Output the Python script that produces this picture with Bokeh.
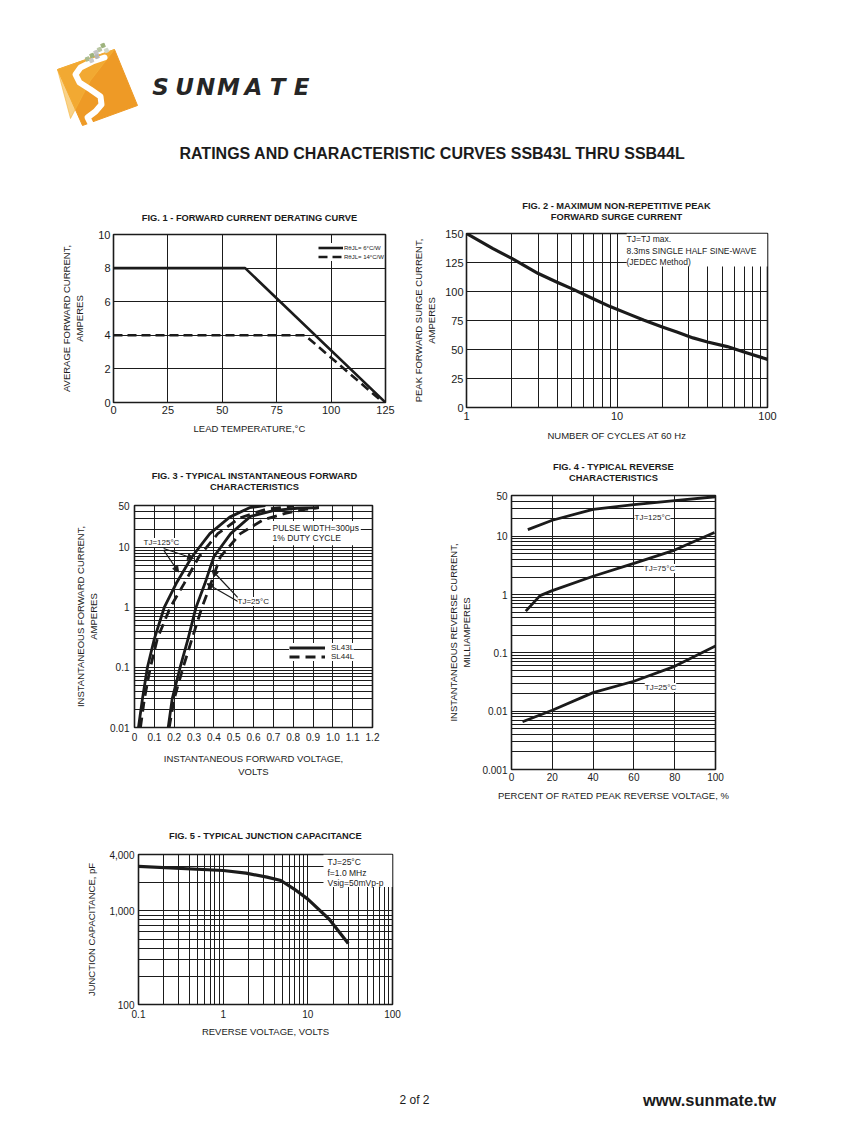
from bokeh.plotting import figure
from bokeh.models import (Range1d, FixedTicker, Label, Legend, LegendItem, Arrow,
                          NormalHead, BoxAnnotation, BasicTickFormatter)
from bokeh.layouts import column, row
from bokeh.embed import file_html
from bokeh.resources import INLINE
from bokeh.core.properties import value

FONT = "Liberation Sans"
INK = "#1b1b1b"

# ---------------- data ----------------
# Fig. 1 forward current derating
f1_x_ticks = [0, 25, 50, 75, 100, 125]
f1_x_labels = ["0", "25", "50", "75", "100", "125"]
f1_y_ticks = [0, 2, 4, 6, 8, 10]
f1_y_labels = ["0", "2", "4", "6", "8", "10"]
f1_temp_6 = [0, 60.5, 125]
f1_amps_6 = [8, 8, 0]
f1_temp_14 = [0, 88, 124]
f1_amps_14 = [4, 4, 0]
f1_series = ["RθJL= 6°C/W", "RθJL= 14°C/W"]

# Fig. 2 peak forward surge current
f2_x_ticks = [1, 10, 100]
f2_x_labels = ["1", "10", "100"]
f2_x_minor = [2, 3, 4, 5, 6, 7, 8, 9, 20, 30, 40, 50, 60, 70, 80, 90]
f2_y_ticks = [0, 25, 50, 75, 100, 125, 150]
f2_y_labels = ["0", "25", "50", "75", "100", "125", "150"]
f2_cycles = [1, 1.5, 2, 3, 4, 5, 7, 9, 12, 15, 20, 25, 32, 40, 54, 69, 100]
f2_amps = [150, 137, 128.5, 115.5, 108, 102.5, 93.5, 87, 80.5, 75.5, 69.5, 65, 60, 56.5, 52.5, 48, 41.5]

# Fig. 3 instantaneous forward characteristics
f3_x_ticks = [0, 0.1, 0.2, 0.3, 0.4, 0.5, 0.6, 0.7, 0.8, 0.9, 1.0, 1.1, 1.2]
f3_x_labels = ["0", "0.1", "0.2", "0.3", "0.4", "0.5", "0.6", "0.7", "0.8", "0.9", "1.0", "1.1", "1.2"]
f3_y_ticks = [0.01, 0.1, 1, 10, 50]
f3_y_labels = ["0.01", "0.1", "1", "10", "50"]
f3_y_minor = [0.02, 0.03, 0.04, 0.05, 0.06, 0.07, 0.08, 0.09,
              0.2, 0.3, 0.4, 0.5, 0.6, 0.7, 0.8, 0.9,
              2, 3, 4, 5, 6, 7, 8, 9, 20, 30, 40]
f3_v_43_125 = [0.02, 0.04, 0.065, 0.1, 0.15, 0.21, 0.29, 0.38, 0.48, 0.58, 0.66]
f3_i_43_125 = [0.01, 0.03, 0.1, 0.3, 1.0, 2.5, 7, 17, 32, 46, 50]
f3_v_44_125 = [0.03, 0.05, 0.08, 0.115, 0.18, 0.25, 0.325, 0.42, 0.53, 0.66, 0.8]
f3_i_44_125 = [0.01, 0.03, 0.1, 0.3, 1.0, 2.5, 7, 17, 31, 43, 49]
f3_v_43_25 = [0.17, 0.19, 0.23, 0.27, 0.31, 0.355, 0.40, 0.485, 0.585, 0.7, 0.82, 0.93]
f3_i_43_25 = [0.01, 0.03, 0.1, 0.3, 1.0, 2.5, 7, 17, 33, 41, 45, 46]
f3_v_44_25 = [0.175, 0.2, 0.245, 0.29, 0.34, 0.385, 0.433, 0.534, 0.65, 0.76, 0.86, 0.93]
f3_i_44_25 = [0.01, 0.03, 0.1, 0.3, 1.0, 2.5, 7, 17, 29, 37, 43, 46]
f3_series = ["SL43L", "SL44L"]

# Fig. 4 typical reverse characteristics
f4_x_ticks = [0, 20, 40, 60, 80, 100]
f4_x_labels = ["0", "20", "40", "60", "80", "100"]
f4_y_ticks = [0.001, 0.01, 0.1, 1, 10, 50]
f4_y_labels = ["0.001", "0.01", "0.1", "1", "10", "50"]
f4_y_minor = [0.002, 0.003, 0.004, 0.005, 0.006, 0.007, 0.008, 0.009,
              0.02, 0.03, 0.04, 0.05, 0.06, 0.07, 0.08, 0.09,
              0.2, 0.3, 0.4, 0.5, 0.6, 0.7, 0.8, 0.9,
              2, 3, 4, 5, 6, 7, 8, 9, 20, 30, 40]
f4_pct_125 = [8, 20, 40, 60, 80, 100]
f4_ma_125 = [13, 18.8, 29, 34.8, 41, 47.6]
f4_pct_75 = [7, 14, 20, 40, 60, 80, 99.5]
f4_ma_75 = [0.52, 0.96, 1.17, 2.06, 3.43, 5.8, 11.6]
f4_pct_25 = [5.4, 20, 40, 60, 80, 100]
f4_ma_25 = [0.0066, 0.0104, 0.0208, 0.0326, 0.0588, 0.131]

# Fig. 5 typical junction capacitance
f5_x_ticks = [0.1, 1, 10, 100]
f5_x_labels = ["0.1", "1", "10", "100"]
f5_x_minor = [0.2, 0.3, 0.4, 0.5, 0.6, 0.7, 0.8, 0.9, 2, 3, 4, 5, 6, 7, 8, 9,
              20, 30, 40, 50, 60, 70, 80, 90]
f5_y_ticks = [100, 1000, 4000]
f5_y_labels = ["100", "1,000", "4,000"]
f5_y_minor = [200, 300, 400, 500, 600, 700, 800, 900, 2000, 3000]
f5_volts = [0.1, 1, 1.86, 3.3, 4.8, 6.9, 10, 17.9, 30]
f5_pf = [2985, 2700, 2530, 2290, 2110, 1710, 1336, 813, 448]

# figure titles
fig_titles = {
    "f1": ["FIG. 1 - FORWARD CURRENT DERATING CURVE"],
    "f2": ["FIG. 2 - MAXIMUM NON-REPETITIVE PEAK", "FORWARD SURGE CURRENT"],
    "f3": ["FIG. 3 - TYPICAL INSTANTANEOUS FORWARD", "CHARACTERISTICS"],
    "f4": ["FIG. 4 - TYPICAL REVERSE", "CHARACTERISTICS"],
    "f5": ["FIG. 5 - TYPICAL JUNCTION CAPACITANCE"],
}


# ---------------- helpers ----------------
def make_fig(fw, fh, bl, br, bt, bb, xr, yr, xtype="linear", ytype="linear"):
    p = figure(frame_width=fw, frame_height=fh, min_border_left=bl, min_border_right=br,
               min_border_top=bt, min_border_bottom=bb, x_range=xr, y_range=yr,
               x_axis_type=xtype, y_axis_type=ytype, output_backend="svg",
               toolbar_location=None, title=None)
    p.outline_line_color = INK
    p.outline_line_width = 1.6
    p.background_fill_color = "white"
    p.border_fill_color = "white"
    for ax in (p.xaxis[0], p.yaxis[0]):
        ax.axis_line_color = None
        ax.major_tick_in = 0
        ax.major_tick_out = 0
        ax.minor_tick_in = 0
        ax.minor_tick_out = 0
        ax.major_label_text_font = FONT
        ax.major_label_text_color = INK
        ax.axis_label_text_font = FONT
        ax.axis_label_text_font_style = "normal"
        ax.axis_label_text_color = INK
        ax.axis_label_text_font_size = "9.5px"
    for g in (p.xgrid[0], p.ygrid[0]):
        g.grid_line_color = INK
        g.grid_line_width = 1
        g.grid_line_alpha = 1
        g.minor_grid_line_color = INK
        g.minor_grid_line_width = 1
        g.minor_grid_line_alpha = 1
    return p


def set_ticks(ax, grid, ticks, labels, minor=()):
    t = FixedTicker(ticks=list(ticks), minor_ticks=list(minor))
    ax.ticker = t
    grid.ticker = t
    ax.formatter = BasicTickFormatter()
    ax.major_label_overrides = {tk: lb for tk, lb in zip(ticks, labels)}


def text_label(p, x, y, text, size="8.5px", bold=False, align="left", bg=None):
    lab = Label(x=x, y=y, x_units="screen", y_units="screen", text=text,
                text_font=FONT, text_font_size=size, text_color=INK,
                text_font_style="bold" if bold else "normal",
                text_align=align, text_baseline="middle")
    if bg is not None:
        lab.background_fill_color = bg
        lab.background_fill_alpha = 1.0
    p.add_layout(lab)
    return lab


def page_strip(y0, y1, x0=0, x1=839, bl=0, br=0):
    # x0/x1: page x of the strip's frame; bl/br: blank borders left and right of it
    s = figure(frame_width=x1 - x0, frame_height=y1 - y0, min_border=0,
               min_border_left=bl, min_border_right=br, x_range=Range1d(x0, x1),
               y_range=Range1d(y1, y0), x_axis_location=None, y_axis_location=None,
               output_backend="svg", toolbar_location=None, title=None)
    s.grid.visible = False
    s.outline_line_color = None
    return s


def strip_titles(s, entries):
    # entries: (x_center, y_first_line, lines)
    xs, ys, ts = [], [], []
    for xc, y0, lines in entries:
        for k, ln in enumerate(lines):
            xs.append(xc)
            ys.append(y0 + 11 * k)
            ts.append(ln)
    s.text(x=xs, y=ys, text=ts, text_font=value(FONT), text_font_style="bold",
           text_font_size="9.3px", text_color=INK, text_align="center", text_baseline="middle")


# ---------------- header ----------------
hdr = page_strip(0, 190)
hdr.patch([57, 114, 137, 82], [69, 49, 105, 125], color="#EE9A26")
hdr.patch([57, 114, 90, 70], [69, 49, 80, 118], color="#F5B43A", alpha=0.6)
hdr.line([104, 92, 80, 75, 79, 90, 100, 101, 95, 87, 90],
         [57, 61, 67, 74, 82, 89, 96, 104, 111, 117, 123],
         line_color="white", line_width=6, line_cap="round", line_join="round")
hdr.rect([102.5, 99, 95.5, 91.5, 96.5, 87, 91, 106],
         [45, 49, 52, 55, 56, 58.5, 60, 50],
         width=3.6, height=3.6, angle=0.35,
         color=["#9DB27C", "#B9C6A2", "#C4C4C4", "#9DB27C", "#B5B5B5", "#A9BB8E", "#C9C9C9", "#D2D8C8"])
hdr.text(x=[160, 184, 205, 228, 253, 277, 301], y=[86] * 7, text=list("SUNMATE"),
         text_font=value("DejaVu Sans"), text_font_style="bold italic", text_font_size="23px",
         text_color="#262626", text_align="center", text_baseline="middle")
hdr.text(x=[432], y=[153], text=["RATINGS AND CHARACTERISTIC CURVES SSB43L THRU SSB44L"],
         text_font=value(FONT), text_font_style="bold", text_font_size="16px",
         text_color=INK, text_align="center", text_baseline="middle")

# ---------------- title strips ----------------
stripB = page_strip(190, 226)
strip_titles(stripB, [(249, 217, fig_titles["f1"]), (616, 205, fig_titles["f2"])])
# strips stacked over a plot share that plot's left/right borders (frames align in columns)
strip3 = page_strip(450, 495, 134, 372, bl=134, br=33)
strip_titles(strip3, [(254, 475, fig_titles["f3"])])
strip4 = page_strip(450, 488, 511, 715, bl=106, br=30)
strip_titles(strip4, [(613, 466, fig_titles["f4"])])
stripD = page_strip(810, 846)
strip_titles(stripD, [(265, 835, fig_titles["f5"])])

# ---------------- Fig. 1 ----------------
p1 = make_fig(272, 168, 113, 20, 8, 48, Range1d(0, 125), Range1d(0, 10))
set_ticks(p1.xaxis[0], p1.xgrid[0], f1_x_ticks, f1_x_labels)
set_ticks(p1.yaxis[0], p1.ygrid[0], f1_y_ticks, f1_y_labels)
for ax in (p1.xaxis[0], p1.yaxis[0]):
    ax.major_label_text_font_size = "11px"
p1.xaxis.major_label_standoff = 3
p1.yaxis.major_label_standoff = 3
p1.xaxis.axis_label = "LEAD TEMPERATURE,°C"
p1.xaxis.axis_label_standoff = 6
p1.yaxis.axis_label = "AVERAGE FORWARD CURRENT,\nAMPERES"
p1.yaxis.axis_label_standoff = 10
r16 = p1.line(f1_temp_6, f1_amps_6, line_color=INK, line_width=2.6)
r114 = p1.line(f1_temp_14, f1_amps_14, line_color=INK, line_width=2.6, line_dash="9 5")
leg1 = Legend(items=[LegendItem(label=f1_series[0], renderers=[r16]),
                     LegendItem(label=f1_series[1], renderers=[r114])],
              location=(205, 141), padding=1, margin=0, spacing=0, glyph_width=25,
              glyph_height=9, label_height=9, label_standoff=1, label_text_font=FONT,
              label_text_font_size="6px", label_text_color=INK, border_line_color=None,
              background_fill_color="white", background_fill_alpha=1.0)
p1.add_layout(leg1)

# ---------------- Fig. 2 ----------------
p2 = make_fig(301, 174, 61, 20, 7, 43, Range1d(1, 100), Range1d(0, 150), xtype="log")
set_ticks(p2.xaxis[0], p2.xgrid[0], f2_x_ticks, f2_x_labels, f2_x_minor)
set_ticks(p2.yaxis[0], p2.ygrid[0], f2_y_ticks, f2_y_labels)
for ax in (p2.xaxis[0], p2.yaxis[0]):
    ax.major_label_text_font_size = "11px"
p2.xaxis.major_label_standoff = 4
p2.yaxis.major_label_standoff = 3
p2.xaxis.axis_label = "NUMBER OF CYCLES AT 60 Hz"
p2.xaxis.axis_label_standoff = 7
p2.yaxis.axis_label = "PEAK FORWARD SURGE CURRENT,\nAMPERES"
p2.yaxis.axis_label_standoff = 5
p2.line(f2_cycles, f2_amps, line_color=INK, line_width=3.2, line_join="round")
p2.add_layout(BoxAnnotation(left=11.6, right=100, bottom=121.5, top=150, fill_color="white",
                            fill_alpha=1.0, line_color=None))
text_label(p2, 160, 169, "TJ=TJ max.", size="8.5px")
text_label(p2, 160, 157, "8.3ms SINGLE HALF SINE-WAVE", size="8.5px")
text_label(p2, 160, 146, "(JEDEC Method)", size="8.5px")

# ---------------- Fig. 3 ----------------
p3 = make_fig(238, 222, 134, 33, 10, 83, Range1d(0, 1.2), Range1d(0.01, 50), ytype="log")
set_ticks(p3.xaxis[0], p3.xgrid[0], f3_x_ticks, f3_x_labels)
set_ticks(p3.yaxis[0], p3.ygrid[0], f3_y_ticks, f3_y_labels, f3_y_minor)
for ax in (p3.xaxis[0], p3.yaxis[0]):
    ax.major_label_text_font_size = "10px"
p3.xaxis.major_label_standoff = 5
p3.yaxis.major_label_standoff = 5
p3.xaxis.axis_label = "INSTANTANEOUS FORWARD VOLTAGE,\nVOLTS"
p3.xaxis.axis_label_standoff = 9
p3.yaxis.axis_label = "INSTANTANEOUS FORWARD CURRENT,\nAMPERES"
p3.yaxis.axis_label_standoff = 8
r3a = p3.line(f3_v_43_125, f3_i_43_125, line_color=INK, line_width=2.8, line_join="round")
r3b = p3.line(f3_v_44_125, f3_i_44_125, line_color=INK, line_width=2.8, line_dash="10 6")
p3.line(f3_v_43_25, f3_i_43_25, line_color=INK, line_width=2.8, line_join="round")
p3.line(f3_v_44_25, f3_i_44_25, line_color=INK, line_width=2.8, line_dash="10 6")
p3.add_layout(BoxAnnotation(left=0.686, right=1.141, bottom=10.9, top=27.6, fill_color="white",
                            fill_alpha=1.0, line_color=None))
text_label(p3, 138, 200, "PULSE WIDTH=300μs", size="8.5px")
text_label(p3, 138, 189.5, "1% DUTY CYCLE", size="8.5px")
for (x0, y0, x1, y1) in [(0.147, 9.62, 0.298, 6.54), (0.147, 9.01, 0.222, 3.9),
                         (0.534, 1.31, 0.391, 4.17), (0.526, 1.23, 0.366, 2.49)]:
    p3.add_layout(Arrow(x_start=x0, y_start=y0, x_end=x1, y_end=y1, line_color=INK,
                        line_width=1.2, end=NormalHead(size=6, fill_color=INK, line_color=INK)))
text_label(p3, 9, 185, "TJ=125°C", size="8px", bg="white")
text_label(p3, 103, 126, "TJ=25°C", size="8px", bg="white")
leg3 = Legend(items=[LegendItem(label=f3_series[0], renderers=[r3a]),
                     LegendItem(label=f3_series[1], renderers=[r3b])],
              location=(155, 66), padding=3, margin=0, spacing=0, glyph_width=36,
              glyph_height=9, label_height=9, label_standoff=6, label_text_font=FONT,
              label_text_font_size="8px", label_text_color=INK, border_line_color=None,
              background_fill_color="white", background_fill_alpha=1.0)
p3.add_layout(leg3)

# ---------------- Fig. 4 ----------------
p4 = make_fig(204, 274, 106, 30, 7, 41, Range1d(0, 100), Range1d(0.001, 50), ytype="log")
set_ticks(p4.xaxis[0], p4.xgrid[0], f4_x_ticks, f4_x_labels)
set_ticks(p4.yaxis[0], p4.ygrid[0], f4_y_ticks, f4_y_labels, f4_y_minor)
for ax in (p4.xaxis[0], p4.yaxis[0]):
    ax.major_label_text_font_size = "10px"
p4.xaxis.major_label_standoff = 3
p4.yaxis.major_label_standoff = 4
p4.xaxis.axis_label = "PERCENT OF RATED PEAK REVERSE VOLTAGE, %"
p4.xaxis.axis_label_standoff = 6
p4.yaxis.axis_label = "INSTANTANEOUS REVERSE CURRENT,\nMILLIAMPERES"
p4.yaxis.axis_label_standoff = 7
p4.line(f4_pct_125, f4_ma_125, line_color=INK, line_width=2.8, line_join="round")
p4.line(f4_pct_75, f4_ma_75, line_color=INK, line_width=2.8, line_join="round")
p4.line(f4_pct_25, f4_ma_25, line_color=INK, line_width=2.8, line_join="round")
text_label(p4, 141, 252, "TJ=125°C", size="8px", align="center", bg="white")
text_label(p4, 148, 201, "TJ=75°C", size="8px", align="center", bg="white")
text_label(p4, 149, 82, "TJ=25°C", size="8px", align="center", bg="white")

# ---------------- Fig. 5 ----------------
p5 = make_fig(254, 150, 138, 20, 8, 46, Range1d(0.1, 100), Range1d(100, 4000),
              xtype="log", ytype="log")
set_ticks(p5.xaxis[0], p5.xgrid[0], f5_x_ticks, f5_x_labels, f5_x_minor)
set_ticks(p5.yaxis[0], p5.ygrid[0], f5_y_ticks, f5_y_labels, f5_y_minor)
for ax in (p5.xaxis[0], p5.yaxis[0]):
    ax.major_label_text_font_size = "10px"
p5.xaxis.major_label_standoff = 5
p5.yaxis.major_label_standoff = 4
p5.xaxis.axis_label = "REVERSE VOLTAGE, VOLTS"
p5.xaxis.axis_label_standoff = 5
p5.yaxis.axis_label = "JUNCTION CAPACITANCE, pF"
p5.yaxis.axis_label_standoff = 9
p5.line(f5_volts, f5_pf, line_color=INK, line_width=3.2, line_join="round")
p5.add_layout(BoxAnnotation(left=15.3, right=100, bottom=1800, top=4000, fill_color="white",
                            fill_alpha=1.0, line_color=None))
text_label(p5, 189, 143, "TJ=25°C", size="8.5px")
text_label(p5, 189, 132, "f=1.0 MHz", size="8.5px")
text_label(p5, 189, 122, "Vsig=50mVp-p", size="8.5px")

# ---------------- footer ----------------
ftr = page_strip(1050, 1120)
ftr.text(x=[414], y=[1099], text=["2 of 2"], text_font=value(FONT), text_font_size="12px",
         text_color=INK, text_align="center", text_baseline="middle")
ftr.text(x=[709], y=[1099], text=["www.sunmate.tw"], text_font=value(FONT),
         text_font_style="bold", text_font_size="16.5px", text_color=INK,
         text_align="center", text_baseline="middle")

layout = column(hdr, stripB, row(column(p1), column(p2)),
                row(column(strip3, p3), column(strip4, p4)), stripD, row(p5), ftr)
open("out.html", "w").write(file_html(layout, INLINE))
